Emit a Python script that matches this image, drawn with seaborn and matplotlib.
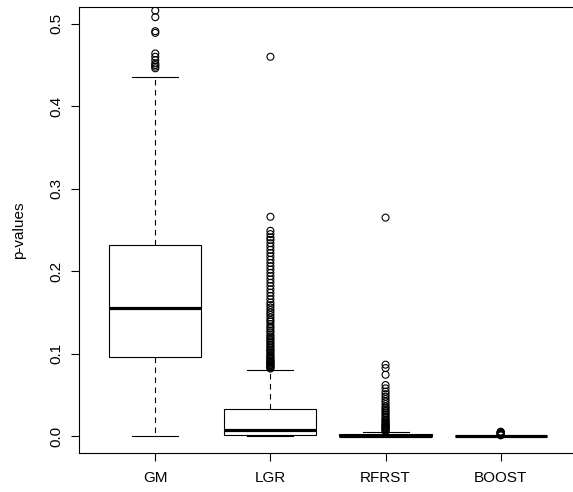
import pandas as pd
import seaborn as sns
import matplotlib
matplotlib.use('Agg')
import matplotlib.pyplot as plt

# groups on the x axis
groups = ['GM', 'LGR', 'RFRST', 'BOOST']

# five-number summaries: lower whisker, Q1, median, Q3, upper whisker
gm_box = [0.0, 0.0955, 0.1554, 0.2313, 0.435]
lgr_box = [0.0, 0.001, 0.0075, 0.0325, 0.0806]
rfrst_box = [0.0, 0.0001, 0.0007, 0.0022, 0.0055]
boost_box = [0.0, 0.0, 0.0001, 0.0003, 0.0008]

# outliers
gm_out = [0.446, 0.448, 0.450, 0.452, 0.456, 0.460, 0.464, 0.489, 0.491, 0.508, 0.516, 0.53]
lgr_out = [0.082, 0.083, 0.084, 0.085, 0.086, 0.087, 0.088, 0.089, 0.090, 0.091, 0.092, 0.094,
           0.095, 0.097, 0.098, 0.100, 0.102, 0.104, 0.105, 0.107, 0.109, 0.111, 0.113, 0.115,
           0.117, 0.119, 0.121, 0.123, 0.126, 0.128, 0.131, 0.133, 0.136, 0.139, 0.141, 0.144,
           0.147, 0.150, 0.153, 0.156, 0.159, 0.162, 0.166, 0.170, 0.174, 0.178, 0.182, 0.186,
           0.190, 0.194, 0.198, 0.202, 0.206, 0.210, 0.214, 0.218, 0.222, 0.226, 0.230, 0.234,
           0.238, 0.241, 0.245, 0.249, 0.266, 0.460]
rfrst_out = [0.006, 0.007, 0.008, 0.009, 0.010, 0.011, 0.012, 0.013, 0.014, 0.015, 0.016, 0.018,
             0.019, 0.020, 0.022, 0.024, 0.026, 0.028, 0.030, 0.032, 0.034, 0.036, 0.039, 0.042,
             0.045, 0.048, 0.051, 0.054, 0.058, 0.062, 0.0745, 0.0826, 0.0867, 0.265]
boost_out = [0.001, 0.0015, 0.002, 0.0025, 0.003, 0.0035, 0.004, 0.0045, 0.005, 0.0055]

box_df = pd.DataFrame({
    'method': [g for g, b in zip(groups, [gm_box, lgr_box, rfrst_box, boost_box]) for _ in b],
    'p': gm_box + lgr_box + rfrst_box + boost_box,
})
out_df = pd.DataFrame({
    'method': [g for g, o in zip(groups, [gm_out, lgr_out, rfrst_out, boost_out]) for _ in o],
    'p': gm_out + lgr_out + rfrst_out + boost_out,
})

plt.rcParams['font.family'] = ['Liberation Sans', 'DejaVu Sans']
plt.rcParams['font.size'] = 11

fig = plt.figure(figsize=(5.73, 4.92), dpi=100)
ax = fig.add_axes([0.1384, 0.0799, 0.868, 0.9053])

# whis=(0, 100) so the whiskers land on the min/max of each summary
sns.boxplot(data=box_df, x='method', y='p', order=groups, whis=(0, 100), width=0.8,
            color='white', linecolor='black', linewidth=0.8,
            medianprops=dict(linewidth=2.3, color='black'),
            whiskerprops=dict(linestyle=(0, (5, 4)), linewidth=0.8),
            capprops=dict(linewidth=0.8), ax=ax)

sns.stripplot(data=out_df, x='method', y='p', order=groups, jitter=False, marker='o',
              size=5, facecolor='none', edgecolor='black', linewidth=0.8, ax=ax)

ax.set_xlim(-0.66, 3.66)
ax.set_ylim(-0.02, 0.52)
ax.set_yticks([0.0, 0.1, 0.2, 0.3, 0.4, 0.5])
ax.set_yticklabels(['0.0', '0.1', '0.2', '0.3', '0.4', '0.5'], rotation=90, va='center')
ax.set_xlabel('')
ax.set_ylabel('p-values', labelpad=17)
ax.tick_params(length=5.5, width=0.8, color='black')
ax.tick_params(axis='x', pad=8)
ax.tick_params(axis='y', pad=6)
for s in ax.spines.values():
    s.set_linewidth(0.8)
    s.set_color('black')
ax.spines['right'].set_visible(False)

plt.savefig('out.png', dpi=100)
plt.close()
